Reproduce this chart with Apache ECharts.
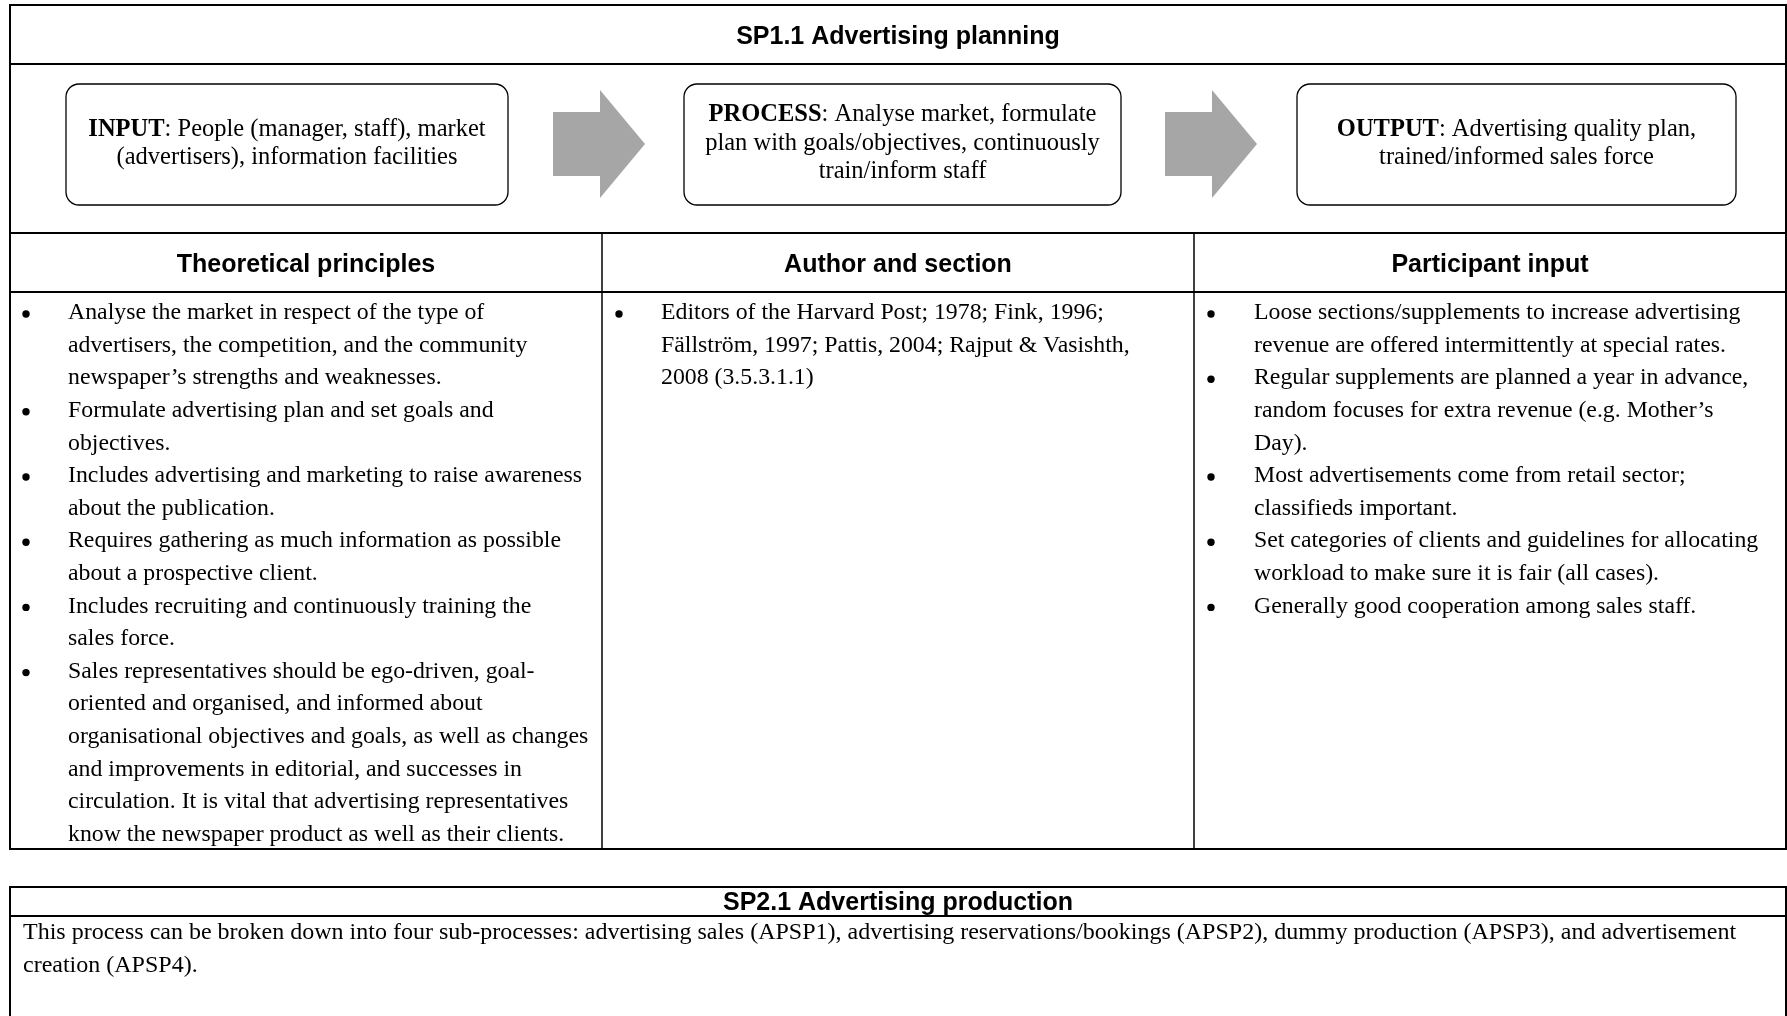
<!DOCTYPE html>
<html>
<head>
<meta charset="utf-8">
<script src="https://cdn.jsdelivr.net/npm/echarts@6/dist/echarts.min.js"></script>
<style>
html,body{margin:0;padding:0;background:#fff;}
#chart{width:1787px;height:1016px;}
</style>
</head>
<body>
<div id="chart"></div>
<script>
// ---------- content ----------
const table1Title = 'SP1.1 Advertising planning';
const flowLabels = ['INPUT', 'PROCESS', 'OUTPUT'];
const flowTexts = [
  ': People (manager, staff), market\n(advertisers), information facilities',
  ': Analyse market, formulate\nplan with goals/objectives, continuously\ntrain/inform staff',
  ': Advertising quality plan,\ntrained/informed sales force'
];
const columnHeaders = ['Theoretical principles', 'Author and section', 'Participant input'];
const principles = [
  'Analyse the market in respect of the type of\nadvertisers, the competition, and the community\nnewspaper\u2019s strengths and weaknesses.',
  'Formulate advertising plan and set goals and\nobjectives.',
  'Includes advertising and marketing to raise awareness\nabout the publication.',
  'Requires gathering as much information as possible\nabout a prospective client.',
  'Includes recruiting and continuously training the\nsales force.',
  'Sales representatives should be ego-driven, goal-\noriented and organised, and informed about\norganisational objectives and goals, as well as changes\nand improvements in editorial, and successes in\ncirculation. It is vital that advertising representatives\nknow the newspaper product as well as their clients.'
];
const authors = [
  'Editors of the Harvard Post; 1978; Fink, 1996;\nF\u00e4llstr\u00f6m, 1997; Pattis, 2004; Rajput & Vasishth,\n2008 (3.5.3.1.1)'
];
const participantInput = [
  'Loose sections/supplements to increase advertising\nrevenue are offered intermittently at special rates.',
  'Regular supplements are planned a year in advance,\nrandom focuses for extra revenue (e.g. Mother\u2019s\nDay).',
  'Most advertisements come from retail sector;\nclassifieds important.',
  'Set categories of clients and guidelines for allocating\nworkload to make sure it is fair (all cases).',
  'Generally good cooperation among sales staff.'
];
const table2Title = 'SP2.1 Advertising production';
const table2Text = 'This process can be broken down into four sub-processes: advertising sales (APSP1), advertising reservations/bookings (APSP2), dummy production (APSP3), and advertisement\ncreation (APSP4).';

// ---------- layout ----------
const SERIF = '"Liberation Serif", "Times New Roman", serif';
const SANS = '"Liberation Sans", Arial, sans-serif';
const BODY_SIZE = 23.8, LINE_H = 32.6;
const BOX_SIZE = 24.5;
const HEAD_SIZE = 25;
const L = 10, R = 1786;
const T1 = 5, TITLE_DIV = 64, FLOW_DIV = 233, HEAD_DIV = 292, B1 = 849;
const COL_X = [L, 602, 1194, R];
const T2 = 887, DIV2 = 916, B2 = 1030;
const BOX_X = [[66, 508], [684, 1121], [1297, 1736]];
const BOX_Y = [84, 205];
const ARROW_X = [553, 1165];

const els = [];
function line(x1, y1, x2, y2, w) {
  els.push({type: 'line', shape: {x1, y1, x2, y2}, style: {stroke: '#000', lineWidth: w || 2}, silent: true});
}
function text(x, y, t, opt) {
  els.push({type: 'text', x, y, silent: true, style: Object.assign({
    text: t, fill: '#000', font: BODY_SIZE + 'px ' + SERIF,
    textAlign: 'left', textVerticalAlign: 'middle'
  }, opt || {})});
}

// table 1 frame
line(L, T1, R, T1, 2);
line(L, T1 - 1, L, B1 + 1, 2);
line(R, T1 - 1, R, B1 + 1, 2);
line(L, TITLE_DIV, R, TITLE_DIV, 2);
line(L, FLOW_DIV, R, FLOW_DIV, 2);
line(L, HEAD_DIV, R, HEAD_DIV, 2);
line(L, B1, R, B1, 2);
line(COL_X[1], FLOW_DIV, COL_X[1], B1, 1.5);
line(COL_X[2], FLOW_DIV, COL_X[2], B1, 1.5);

// title
text((L + R) / 2, (T1 + TITLE_DIV) / 2 + 3, table1Title, {font: 'bold ' + HEAD_SIZE + 'px ' + SANS, textAlign: 'center'});

// flow boxes
BOX_X.forEach(function (bx, i) {
  els.push({type: 'rect', silent: true,
    shape: {x: bx[0], y: BOX_Y[0], width: bx[1] - bx[0], height: BOX_Y[1] - BOX_Y[0], r: 13},
    style: {fill: '#fff', stroke: '#000', lineWidth: 1.3}});
  els.push({type: 'text', silent: true, x: (bx[0] + bx[1]) / 2, y: (BOX_Y[0] + BOX_Y[1]) / 2 - 1,
    style: {
      text: '{b|' + flowLabels[i] + '}' + flowTexts[i],
      font: BOX_SIZE + 'px ' + SERIF, fill: '#000',
      textAlign: 'center', textVerticalAlign: 'middle', lineHeight: 28.5,
      rich: {b: {font: 'bold ' + BOX_SIZE + 'px ' + SERIF, fill: '#000', lineHeight: 28.5}}
    }});
});

// arrows
ARROW_X.forEach(function (ax) {
  els.push({type: 'polygon', silent: true,
    shape: {points: [[ax, 112], [ax + 47, 112], [ax + 47, 90], [ax + 92, 144], [ax + 47, 198], [ax + 47, 176], [ax, 176]]},
    style: {fill: '#a6a6a6', stroke: null}});
});

// column headers
columnHeaders.forEach(function (h, i) {
  text((COL_X[i] + COL_X[i + 1]) / 2, (FLOW_DIV + HEAD_DIV) / 2 + 3, h, {font: 'bold ' + HEAD_SIZE + 'px ' + SANS, textAlign: 'center'});
});

// bullet lists
function bulletList(items, bulletX, textX, y0) {
  let y = y0;
  items.forEach(function (item) {
    const lines = item.split('\n');
    els.push({type: 'circle', silent: true, shape: {cx: bulletX, cy: y + 1, r: 3.7}, style: {fill: '#000'}});
    lines.forEach(function (ln) {
      text(textX, y, ln);
      y += LINE_H;
    });
  });
}
const FIRST_LINE_Y = 313;
bulletList(principles, 26, 68, FIRST_LINE_Y);
bulletList(authors, 619, 661, FIRST_LINE_Y);
bulletList(participantInput, 1211, 1254, FIRST_LINE_Y);

// table 2
line(L, T2, R, T2, 2);
line(L, T2 - 1, L, B2, 2);
line(R, T2 - 1, R, B2, 2);
line(L, DIV2, R, DIV2, 2);
text((L + R) / 2, (T2 + DIV2) / 2 + 2, table2Title, {font: 'bold ' + HEAD_SIZE + 'px ' + SANS, textAlign: 'center'});
table2Text.split('\n').forEach(function (ln, i) {
  text(23, 933 + i * LINE_H, ln, {font: '24px ' + SERIF});
});

const chart = echarts.init(document.getElementById('chart'), null, {renderer: 'canvas'});
chart.setOption({
  backgroundColor: '#ffffff',
  animation: false,
  graphic: {elements: els}
});
</script>
</body>
</html>
